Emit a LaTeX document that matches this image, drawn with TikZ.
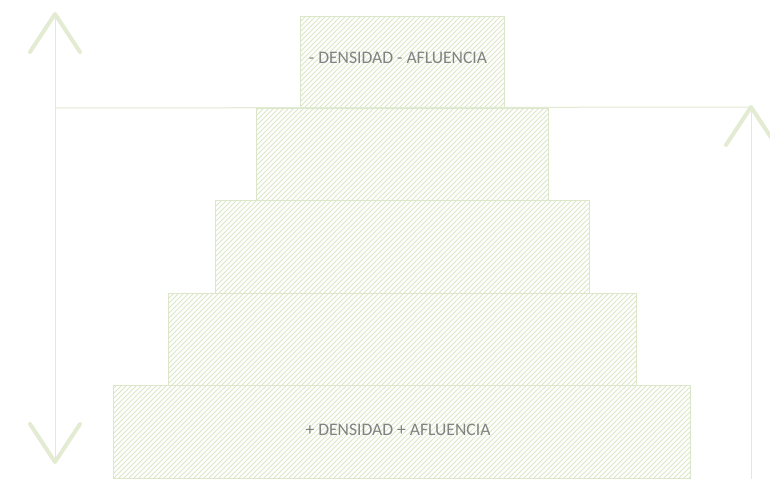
\documentclass[tikz,border=0pt]{standalone}
\usepackage{fontspec}
\setmainfont{Carlito}
\usetikzlibrary{patterns.meta}
\definecolor{hatchc}{HTML}{DCE6C4}
\definecolor{edgec}{HTML}{DCE6C8}
\definecolor{axisc}{HTML}{E2E9D4}
\definecolor{chevc}{HTML}{E3ECD2}
\definecolor{textc}{HTML}{828282}
\tikzset{
  tier/.style={draw=edgec, line width=0.8pt,
    pattern={Lines[angle=45,distance=3.5355pt,line width=0.8pt]}, pattern color=hatchc},
  axis/.style={draw=axisc, line width=1pt},
  chev/.style={draw=chevc, line width=4pt, line cap=round, line join=round},
  lbl/.style={text=textc, font=\fontsize{17.6}{19}\selectfont, inner sep=0pt}
}
\begin{document}
\begin{tikzpicture}[x=1pt,y=-1pt]
\useasboundingbox (0,0) rectangle (770,482);
\fill[white] (0,0) rectangle (770,482);
% tiers
\path[tier] (113,385) rectangle (690,478);
\path[tier] (168,293) rectangle (636,385);
\path[tier] (215,200) rectangle (589,293);
\path[tier] (256,108) rectangle (548,200);
\path[tier] (300,16) rectangle (504,108);
% axes
\coordinate (ltop) at (55,14);
\coordinate (lbot) at (55,462);
\coordinate (corner) at (55,108);
\coordinate (rtop) at (751,107);
\coordinate (rbot) at (751,479);
\draw[axis] (ltop) -- (lbot);
\draw[axis] (corner) -- (rtop);
\draw[axis] (rtop) -- (rbot);
% chevrons
\draw[chev] (30,52) -- (ltop) -- (80,52);
\draw[chev] (30,424) -- (lbot) -- (80,424);
\draw[chev] (726,145) -- (rtop) -- (776,145);
% labels
\node[lbl] (top) at (398,58) {- DENSIDAD - AFLUENCIA};
\node[lbl] (bot) at (398,430) {+ DENSIDAD + AFLUENCIA};
\end{tikzpicture}
\end{document}
